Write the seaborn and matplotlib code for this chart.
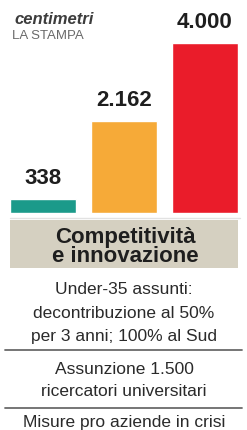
import matplotlib
matplotlib.use("Agg")
import matplotlib.pyplot as plt
from matplotlib.patches import Rectangle
from matplotlib.lines import Line2D
import seaborn as sns

# data
categories = ["A", "B", "C"]
values = [338, 2162, 4000]
value_labels = ["338", "2.162", "4.000"]
bar_colors = ["#1b9a8a", "#f6aa38", "#ea1c2a"]

title_lines = ["Competitività", "e innovazione"]
block1 = ["Under-35 assunti:", "decontribuzione al 50%", "per 3 anni; 100% al Sud"]
block2 = ["Assunzione 1.500", "ricercatori universitari"]
block3 = ["Misure pro aziende in crisi"]

sns.set_style("white")
plt.rcParams["font.family"] = ["Liberation Sans", "DejaVu Sans"]

W, H = 247, 430
fig = plt.figure(figsize=(W / 100, H / 100), dpi=100)
fig.patch.set_facecolor("white")


def fx(px):
    return px / W


def fy(py):
    # pixel from top -> figure fraction
    return (H - py) / H


# bar axes: baseline at y=213px
ax = fig.add_axes([fx(3), fy(213), fx(242), 213 / H])
sns.barplot(x=categories, y=values, hue=categories, palette=bar_colors,
            width=0.82, legend=False, saturation=1, ax=ax)
ax.set_ylim(0, 4000 * 213 / 170)
ax.axis("off")
for cont, lab in zip(ax.containers, value_labels):
    ax.bar_label(cont, labels=[lab], padding=7, fontsize=16,
                 fontweight="bold", color="#1e1e1e")

# faint line under the bars
fig.add_artist(Line2D([fx(10), fx(240)], [fy(218), fy(218)],
                      transform=fig.transFigure, color="#e2e2e2", lw=1))

# logo
fig.text(fx(14), fy(20), "centimetri", fontsize=12, fontweight="bold",
         style="italic", color="#3c3c3c", va="center", ha="left")
fig.text(fx(12), fy(36), "LA STAMPA", fontsize=9.5, color="#6a6a6a",
         va="center", ha="left")

# title box
fig.add_artist(Rectangle((fx(10), fy(268)), fx(228), 48 / H,
                         transform=fig.transFigure, color="#d5d0c1", lw=0))
for txt, y in zip(title_lines, [238, 257]):
    fig.text(fx(125), fy(y), txt, fontsize=16, fontweight="bold",
             color="#1e1e1e", ha="center", va="center")

cx = fx(124)
for txt, y in zip(block1, [290, 314, 337]):
    fig.text(cx, fy(y), txt, fontsize=12.5, color="#2a2a2a",
             ha="center", va="center")
for txt, y in zip(block2, [370, 392]):
    fig.text(cx, fy(y), txt, fontsize=12.5, color="#2a2a2a",
             ha="center", va="center")
for txt, y in zip(block3, [422]):
    fig.text(cx, fy(y), txt, fontsize=12.5, color="#2a2a2a",
             ha="center", va="center")

for y in [350, 408]:
    fig.add_artist(Line2D([fx(5), fx(242)], [fy(y), fy(y)],
                          transform=fig.transFigure, color="#6a6a6a", lw=1.3))

fig.savefig("out.png", dpi=100)
